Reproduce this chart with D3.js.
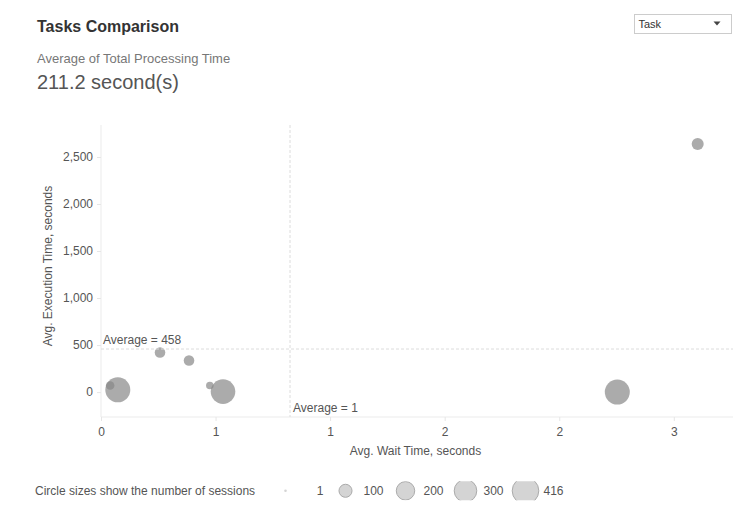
<!DOCTYPE html>
<html lang="en">
<head>
<meta charset="utf-8">
<title>Tasks Comparison</title>
<script src="https://cdn.jsdelivr.net/npm/d3@7"></script>
<style>
  body { margin: 0; background: #fff; }
  text { font-family: "Liberation Sans", Arial, sans-serif; fill: #555; }
  .axis path { display: none; }
  .axis line { stroke: #e6e6e6; }
  .axis text { font-size: 12px; fill: #555; font-family: "Liberation Sans", Arial, sans-serif; }
</style>
</head>
<body>
<script>
// data
var waitTime = [0.048, 0.088, 0.309, 0.461, 0.570, 0.639, 2.704, 3.125];
var execTime = [70, 24, 421, 336, 70, 5, 0, 2638];
var sessions = [43, 368, 66, 66, 34, 356, 368, 85];
var avgWait = 0.99;
var avgExec = 458;
var xTicks = [0, 0.6, 1.2, 1.8, 2.4, 3.0];
var yTicks = [0, 500, 1000, 1500, 2000, 2500];
var legendSizes = [1, 100, 200, 300, 416];

var w = 749, h = 516;
var svg = d3.select("body").append("svg").attr("width", w).attr("height", h);

var pLeft = 101, pRight = 733, pTop = 125, pBottom = 417;

var x = d3.scaleLinear().domain([0, 3.31]).range([pLeft, pRight]);
var y = d3.scaleLinear().domain([-265, 2840]).range([pBottom, pTop]);
var r = d3.scaleSqrt().domain([0, 416]).range([0, 13.3]);

// header
svg.append("text").attr("x", 37).attr("y", 32)
   .style("font-size", "16px").style("font-weight", "bold").style("fill", "#333")
   .text("Tasks Comparison");
svg.append("text").attr("x", 37).attr("y", 63)
   .style("font-size", "13px").style("fill", "#777")
   .text("Average of Total Processing Time");
svg.append("text").attr("x", 37).attr("y", 89)
   .style("font-size", "20px").style("fill", "#555")
   .text("211.2 second(s)");

// dropdown
var dd = svg.append("g").attr("transform", "translate(634.5,14.5)");
dd.append("rect").attr("width", 97).attr("height", 19)
  .attr("fill", "#fff").attr("stroke", "#ccc");
dd.append("text").attr("x", 4).attr("y", 13.5)
  .style("font-size", "11px").style("fill", "#333").text("Task");
dd.append("path").attr("d", "M79,7 L86,7 L82.5,11 Z").attr("fill", "#444");

// frame lines
svg.append("line").attr("x1", pLeft).attr("x2", pLeft).attr("y1", pTop).attr("y2", pBottom)
   .attr("stroke", "#ebebeb");
svg.append("line").attr("x1", pLeft).attr("x2", pRight).attr("y1", pBottom).attr("y2", pBottom)
   .attr("stroke", "#ebebeb");

// axes
svg.append("g").attr("class", "axis")
   .attr("transform", "translate(0," + pBottom + ")")
   .call(d3.axisBottom(x).tickValues(xTicks).tickFormat(d3.format(".0f")).tickSize(4).tickPadding(6));

svg.append("g").attr("class", "axis")
   .attr("transform", "translate(" + pLeft + ",0)")
   .call(d3.axisLeft(y).tickValues(yTicks).tickFormat(d3.format(",")).tickSize(4).tickPadding(4));

// axis titles
svg.append("text").attr("transform", "translate(52,266) rotate(-90)")
   .attr("text-anchor", "middle").style("font-size", "12px")
   .text("Avg. Execution Time, seconds");
svg.append("text").attr("x", 415.5).attr("y", 455)
   .attr("text-anchor", "middle").style("font-size", "12px")
   .text("Avg. Wait Time, seconds");

// points
var pts = waitTime.map(function(d, i) {
  return { x: d, y: execTime[i], n: sessions[i] };
});
svg.append("g").selectAll("circle")
   .data(pts)
   .enter()
   .append("circle")
   .attr("cx", function(d) { return x(d.x); })
   .attr("cy", function(d) { return y(d.y); })
   .attr("r", function(d) { return r(d.n); })
   .attr("fill", "#888")
   .attr("fill-opacity", 0.7);

// average lines
svg.append("line").attr("x1", pLeft).attr("x2", pRight)
   .attr("y1", y(avgExec)).attr("y2", y(avgExec))
   .attr("stroke", "#dcdcdc").attr("stroke-dasharray", "3,2");
svg.append("line").attr("x1", x(avgWait)).attr("x2", x(avgWait))
   .attr("y1", pTop).attr("y2", pBottom)
   .attr("stroke", "#dcdcdc").attr("stroke-dasharray", "3,2");
svg.append("text").attr("x", pLeft + 2).attr("y", y(avgExec) - 5)
   .style("font-size", "12px").text("Average = " + d3.format(".0f")(avgExec));
svg.append("text").attr("x", x(avgWait) + 3).attr("y", pBottom - 5)
   .style("font-size", "12px").text("Average = " + d3.format(".0f")(avgWait));

// size legend
var ly = 490.8;
svg.append("text").attr("x", 35).attr("y", ly + 4)
   .style("font-size", "12px").text("Circle sizes show the number of sessions");

svg.append("clipPath").attr("id", "legclip")
   .append("rect").attr("x", 270).attr("y", ly - 9.5).attr("width", 300).attr("height", 19);

var lx = d3.scalePoint().domain(d3.range(legendSizes.length)).range([285.5, 525.5]);
var legWrap = svg.append("g").attr("clip-path", "url(#legclip)");
var leg = legWrap.selectAll("g")
   .data(legendSizes)
   .enter()
   .append("g")
   .attr("transform", function(d, i) {
     // first dot sits nearer its label than the rest
     var cx = i === 0 ? 285.5 : lx(i);
     return "translate(" + cx + "," + ly + ")";
   });
leg.append("circle")
   .attr("r", function(d) { return Math.max(1.3, r(d)); })
   .attr("fill", "#d4d4d4")
   .attr("stroke", function(d) { return d > 1 ? "#aaa" : "none"; });
leg.append("text").attr("x", 38).attr("y", 4)
   .attr("text-anchor", "end").style("font-size", "12px")
   .text(function(d) { return d; });
</script>
</body>
</html>
